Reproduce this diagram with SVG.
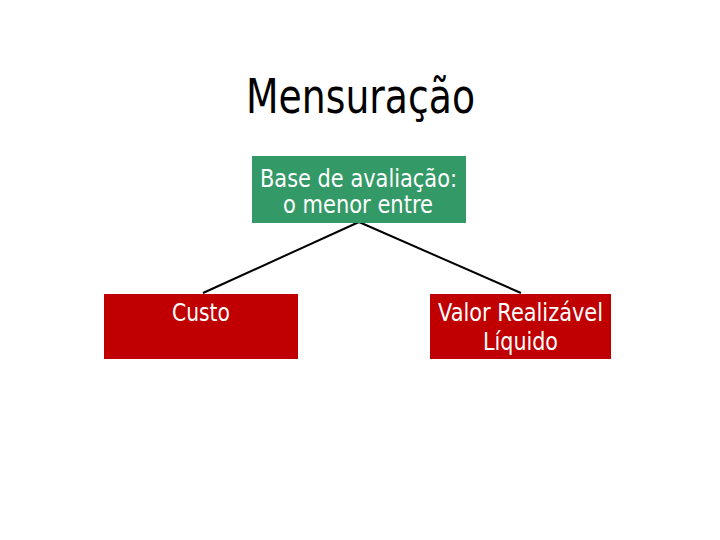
<svg xmlns="http://www.w3.org/2000/svg" width="720" height="540" viewBox="0 0 720 540">
<style>
text{font-family:"DejaVu Sans","Liberation Sans",sans-serif;}
.t{font-size:48px;fill:#000;}
.w{font-size:24px;fill:#fff;}
.g{fill:#339966;}
.r{fill:#C00000;}
.c{stroke:#000;stroke-width:2;fill:none;}
</style>
<rect width="720" height="540" fill="#fff"/>
<g id="title"><text class="t" x="246" y="113" textLength="229" lengthAdjust="spacingAndGlyphs">Mensuração</text></g>
<g id="connectors">
<line class="c" x1="359" y1="222" x2="203" y2="293"/>
<line class="c" x1="359" y1="222" x2="521" y2="293"/>
</g>
<g id="base">
<rect class="g" x="252" y="156" width="214" height="67"/>
<text class="w" x="260" y="187" textLength="197" lengthAdjust="spacingAndGlyphs">Base de avaliação:</text>
<text class="w" x="283" y="213" textLength="150" lengthAdjust="spacingAndGlyphs">o menor entre</text>
</g>
<g id="custo">
<rect class="r" x="104" y="294" width="194" height="65"/>
<text class="w" x="172" y="321" textLength="58" lengthAdjust="spacingAndGlyphs">Custo</text>
</g>
<g id="vrl">
<rect class="r" x="430" y="294" width="181" height="65"/>
<text class="w" x="438" y="321" textLength="165" lengthAdjust="spacingAndGlyphs">Valor Realizável</text>
<text class="w" x="483" y="350" textLength="75" lengthAdjust="spacingAndGlyphs">Líquido</text>
</g>
</svg>
